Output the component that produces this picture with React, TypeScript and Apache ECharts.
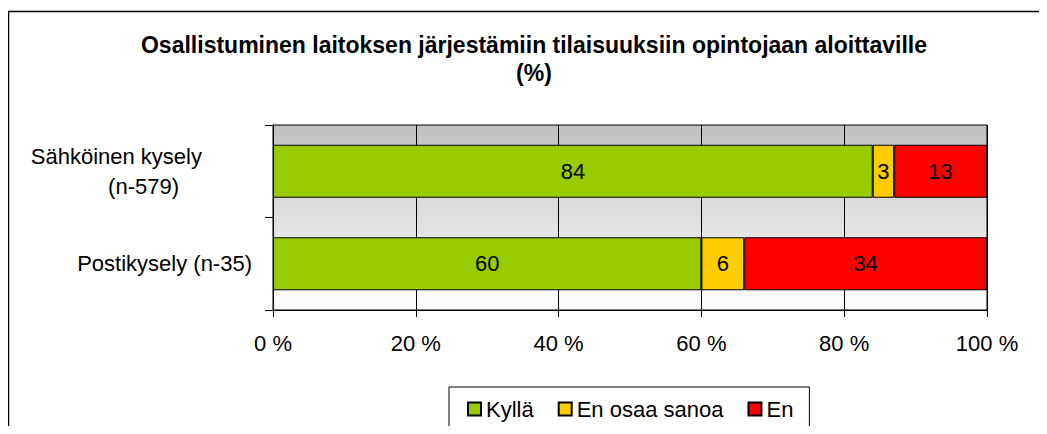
import React, { useEffect, useRef } from "react";
import * as echarts from "echarts";

const categories = ["Sähköinen kysely\n(n-579)", "Postikysely (n-35)"];
const seriesNames = ["Kyllä", "En osaa sanoa", "En"];
const kylla = [84, 60];
const enOsaa = [3, 6];
const en = [13, 34];
const xTicks = { min: 0, max: 100, interval: 20 };
const titleText =
  "Osallistuminen laitoksen järjestämiin tilaisuuksiin opintojaan aloittaville\n(%)";

const FONT = "Liberation Sans, Arial, sans-serif";

export default function App() {
  const ref = useRef<HTMLDivElement>(null);
  useEffect(() => {
    if (!ref.current) return;
    const chart = echarts.init(ref.current, undefined, { renderer: "svg" });
    const colors = ["#99cc00", "#ffcc00", "#ff0000"];
    const values = [kylla, enOsaa, en];
    chart.setOption({
      animation: false,
      textStyle: { fontFamily: FONT },
      title: {
        text: titleText,
        left: 526,
        textAlign: "center",
        top: 23,
        padding: 0,
        textStyle: {
          fontFamily: FONT,
          fontSize: 23,
          fontWeight: "bold",
          color: "#000",
          lineHeight: 28,
        },
      },
      graphic: [
        {
          type: "rect",
          shape: { x: 0.5, y: 3.5, width: 1200, height: 600 },
          style: { fill: "none", stroke: "#000", lineWidth: 1.5 },
          silent: true,
          z: 100,
        },
      ],
      legend: {
        data: seriesNames,
        left: 441,
        top: 379,
        padding: [10, 16, 10, 18],
        itemGap: 24,
        itemWidth: 13,
        itemHeight: 13,
        icon: "rect",
        borderColor: "#000",
        borderWidth: 1,
        textStyle: { fontFamily: FONT, fontSize: 22, color: "#000", lineHeight: 24 },
      },
      grid: {
        left: 265,
        top: 117,
        width: 714,
        height: 185,
        show: true,
        borderColor: "#000",
        borderWidth: 1,
        backgroundColor: {
          type: "linear",
          x: 0,
          y: 0,
          x2: 0,
          y2: 1,
          colorStops: [
            { offset: 0, color: "#c0c0c0" },
            { offset: 1, color: "#ffffff" },
          ],
        },
      },
      xAxis: {
        type: "value",
        min: xTicks.min,
        max: xTicks.max,
        interval: xTicks.interval,
        axisLine: { show: true, lineStyle: { color: "#000" } },
        axisTick: { show: true, length: 7, lineStyle: { color: "#000" } },
        splitLine: { show: true, lineStyle: { color: "#000", width: 1 } },
        axisLabel: {
          formatter: "{value} %",
          fontFamily: FONT,
          fontSize: 22,
          color: "#000",
          margin: 22,
        },
      },
      yAxis: {
        type: "category",
        data: categories,
        inverse: true,
        axisLine: { show: true, lineStyle: { color: "#000" } },
        axisTick: { show: true, length: 8, lineStyle: { color: "#000" } },
        axisLabel: {
          margin: 21,
          color: "#000",
          fontFamily: FONT,
          fontSize: 22,
          formatter: (v: string) => {
            const parts = v.split("\n");
            if (parts.length > 1) return `{a|${parts[0]}}\n{b|${parts[1]}}`;
            return `{c|${v}}`;
          },
          rich: {
            a: { fontFamily: FONT, fontSize: 22, color: "#000", lineHeight: 30, padding: [0, 50, 0, 0] },
            b: { fontFamily: FONT, fontSize: 22, color: "#000", lineHeight: 30, padding: [0, 73, 0, 0] },
            c: { fontFamily: FONT, fontSize: 22, color: "#000", lineHeight: 30 },
          },
        },
      },
      series: seriesNames.map((name, i) => ({
        name,
        type: "bar",
        stack: "total",
        barWidth: 53,
        data: values[i],
        itemStyle: { color: colors[i], borderColor: "#000", borderWidth: 1 },
        label: {
          show: true,
          position: "inside",
          color: "#000",
          fontFamily: FONT,
          fontSize: 22,
        },
      })),
    });
    return () => chart.dispose();
  }, []);
  return <div ref={ref} style={{ width: 1031, height: 418 }} />;
}
